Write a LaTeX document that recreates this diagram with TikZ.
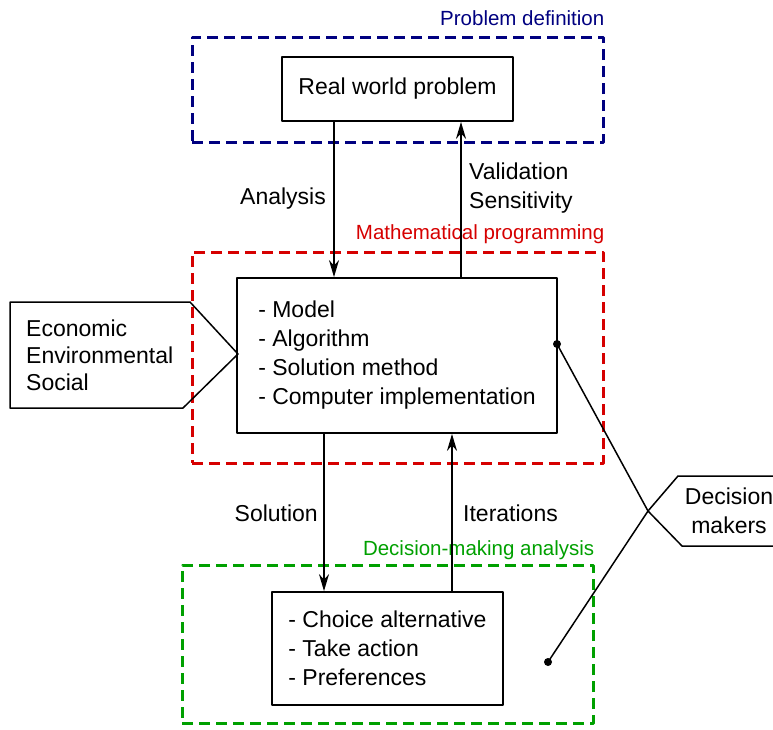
\documentclass[tikz,border=0pt]{standalone}
\usepackage{fontspec}
\setmainfont{Liberation Sans}
\usetikzlibrary{arrows.meta,positioning}
\definecolor{pdblue}{RGB}{0,0,128}
\definecolor{mpred}{RGB}{214,0,0}
\definecolor{dmgreen}{RGB}{0,160,0}
\begin{document}
\begin{tikzpicture}[x=1pt, y=-1pt, font=\fontsize{23}{29}\selectfont, line join=round, >={Stealth[length=17pt,width=10pt]},
	box/.style={draw, line width=1.8pt, inner sep=0pt, align=left},
	frame/.style={draw, line width=3pt, dash pattern=on 11pt off 6pt, inner sep=0pt},
	tag/.style={anchor=base east, inner sep=0pt, font=\fontsize{20.5}{25}\selectfont},
	link/.style={line width=1.8pt}]
	\useasboundingbox (0,0) rectangle (773,729);
	% frames
	\node[frame, pdblue, minimum width=411pt, minimum height=105pt] (pd) at (397.5,89.5) {};
	\node[frame, mpred, minimum width=411pt, minimum height=211pt] (mp) at (397.5,357.5) {};
	\node[frame, dmgreen, minimum width=411pt, minimum height=158pt] (dma) at (387.5,644) {};
	\node[tag, text=pdblue] at ([yshift=10pt]pd.north east) {Problem definition};
	\node[tag, text=mpred] at ([yshift=11pt]mp.north east) {Mathematical programming};
	\node[tag, text=dmgreen] at ([yshift=8pt]dma.north east) {Decision-making analysis};
	% boxes
	\node[box, minimum width=231pt, minimum height=64pt] (rwp) at (397.5,89) {Real world problem};
	\node[box, minimum width=320pt, minimum height=155pt] (mid) at (397,355.5) {- Model\\- Algorithm\\- Solution method\\- Computer implementation};
	\node[box, minimum width=231pt, minimum height=113pt] (act) at (387.5,648.5) {- Choice alternative\\- Take action\\- Preferences};
	% arrows
	\coordinate (an) at ([xshift=-63.5pt]rwp.south);
	\coordinate (va) at ([xshift=63.5pt]rwp.south);
	\coordinate (so) at ([xshift=-63.5pt]act.north);
	\coordinate (it) at ([xshift=64.5pt]act.north);
	\draw[link, ->] (an) -- (an |- mid.north);
	\draw[link, ->] (va |- mid.north) -- (va);
	\draw[link, ->] (so |- mid.south) -- (so);
	\draw[link, ->] (it) -- (it |- mid.south);
	\node[anchor=east, inner sep=0pt] at (326,199) {Analysis};
	\node[anchor=west, inner sep=0pt, align=left] at (469,188) {Validation\\Sensitivity};
	\node[anchor=east, inner sep=0pt] at (318,513) {Solution};
	\node[anchor=west, inner sep=0pt] at (463,513) {Iterations};
	% criteria callout
	\coordinate (eco tip) at (238,354);
	\draw[link, line width=1.5pt] (10,302) -- (190,302) -- (eco tip) -- (183,408) -- (10,408) -- cycle;
	\node[anchor=west, inner sep=0pt, align=left, font=\fontsize{23}{27}\selectfont] (eco) at (26,355) {Economic\\Environmental\\Social};
	% decision makers callout
	\coordinate (dm tip) at (648,511);
	\coordinate (dot a) at (557,344);
	\coordinate (dot b) at (548,662);
	\draw[link, line width=1.5pt] (795,476) -- (678,476) -- (dm tip) -- (682,546) -- (795,546);
	\node[inner sep=0pt, align=center] (dm) at (729,511) {Decision\\makers};
	\draw[line width=1.5pt] (dot a) -- (dm tip) -- (dot b);
	\fill (dot a) circle (4pt);
	\fill (dot b) circle (4pt);
\end{tikzpicture}
\end{document}
